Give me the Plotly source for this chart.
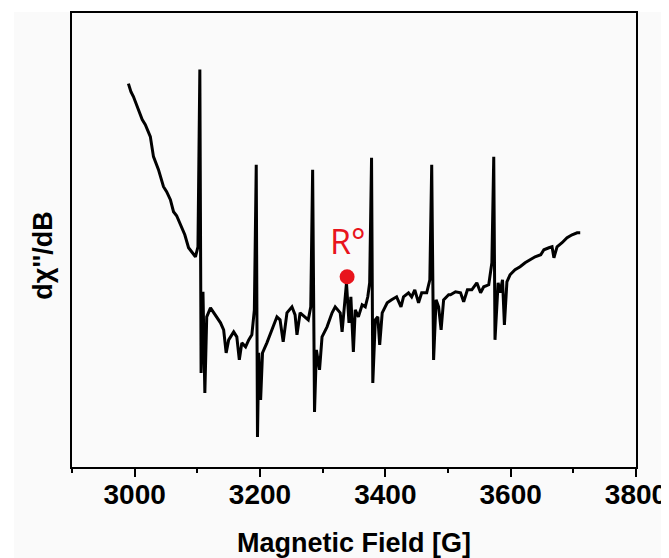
import plotly.graph_objects as go

# Magnetic field (G)
field = [2990, 2994, 2998, 3005, 3012, 3017, 3020, 3025, 3030, 3038, 3046, 3051, 3057, 3062, 3067, 3072, 3080, 3086,
         3092, 3097, 3101, 3104, 3106, 3109, 3112, 3115, 3121, 3129, 3137, 3142, 3146, 3150,
         3158, 3163, 3167, 3171, 3177, 3182, 3187, 3191, 3194, 3196, 3198, 3201, 3204, 3211,
         3219, 3227, 3232, 3237, 3243, 3251, 3256, 3259, 3264, 3272, 3277, 3281, 3284, 3287,
         3290, 3295, 3299, 3307, 3315, 3320, 3328, 3331, 3336, 3338, 3342, 3345, 3349, 3352,
         3357, 3363, 3368, 3372, 3375, 3378, 3380, 3384, 3388, 3391, 3395, 3403, 3410, 3418,
         3425, 3429, 3437, 3442, 3447, 3453, 3458, 3466, 3471, 3474, 3477, 3481, 3485, 3489,
         3493, 3501, 3504, 3512, 3520, 3525, 3531, 3538, 3546, 3552, 3557, 3565, 3570, 3573,
         3575, 3580, 3583, 3587, 3590, 3594, 3599, 3607, 3615, 3623, 3631, 3639, 3648, 3653,
         3661, 3666, 3669, 3674, 3682, 3690, 3698, 3706, 3711]

# EPR signal dχ''/dB (arbitrary units)
signal = [390, 382, 377, 366, 354, 349, 344, 337, 317, 304, 287, 282, 274, 262, 258, 251, 239, 226,
          221, 217, 227, 404, 101, 182, 81, 157, 166, 159, 151, 144, 121, 134,
          142, 137, 114, 131, 127, 134, 139, 164, 309, 37, 121, 74, 121, 131,
          144, 157, 154, 132, 161, 167, 159, 139, 161, 157, 154, 167, 304, 62,
          124, 104, 137, 147, 161, 167, 161, 142, 172, 191, 151, 177, 122, 164,
          157, 169, 167, 177, 191, 316, 91, 154, 157, 129, 161, 171, 174, 177,
          167, 177, 181, 177, 184, 171, 181, 181, 194, 309, 114, 174, 167, 144,
          174, 179, 179, 182, 181, 172, 184, 184, 191, 181, 187, 189, 211, 317,
          134, 191, 181, 194, 149, 192, 199, 204, 207, 211, 214, 217, 219, 224,
          226, 227, 216, 227, 231, 236, 239, 241, 241]

radical_field = [3339]
radical_signal = [197]
radical_label = "R°"

x_ticks = [3000, 3200, 3400, 3600, 3800]

fig = go.Figure()

fig.add_trace(go.Scatter(
    x=field, y=signal, mode="lines",
    line=dict(color="black", width=3),
    showlegend=False, hoverinfo="skip",
))

fig.add_trace(go.Scatter(
    x=radical_field, y=radical_signal, mode="markers",
    marker=dict(color="#e8141c", size=15),
    showlegend=False, hoverinfo="skip",
))

fig.add_annotation(
    x=3341, y=233, xref="x", yref="y", text=radical_label, showarrow=False,
    font=dict(family="Open Sans, Noto Sans, sans-serif", size=34, color="#e8141c"),
)

fig.add_annotation(
    x=-0.082, y=0.465, xref="paper", yref="paper", text="dχ''/dB", showarrow=False,
    textangle=-90,
    font=dict(family="Liberation Sans, Arial, sans-serif", size=27, color="black", weight="bold"),
)

# light gray background panel
fig.add_shape(type="rect", xref="paper", yref="paper",
              x0=-0.1028, x1=1.07, y0=-0.22, y1=1.0022,
              fillcolor="#fafafa", line=dict(width=0), layer="below")

fig.update_layout(
    width=661, height=550,
    margin=dict(l=64, r=33, t=5, b=91, autoexpand=False),
    paper_bgcolor="white", plot_bgcolor="#fafafa",
    font=dict(family="Liberation Sans, Arial, sans-serif", color="black"),
    xaxis=dict(
        range=[2900, 3800], tickvals=x_ticks, automargin=False,
        ticks="outside", ticklen=8, tickwidth=2, tickcolor="black",
        minor=dict(dtick=100, tick0=2900, ticks="outside", ticklen=4, tickwidth=2, tickcolor="black"),
        showline=True, linecolor="black", linewidth=2, mirror=True,
        showgrid=False, zeroline=False,
        ticklabelstandoff=-7,
        tickfont=dict(size=28, color="black", weight="bold"),
        title=dict(text="Magnetic Field [G]", font=dict(size=27, color="black", weight="bold"), standoff=25),
    ),
    yaxis=dict(
        range=[7, 460.5], showticklabels=False, ticks="", automargin=False,
        showline=True, linecolor="black", linewidth=2, mirror=True,
        showgrid=False, zeroline=False,
    ),
)

fig.write_html("out.html")
